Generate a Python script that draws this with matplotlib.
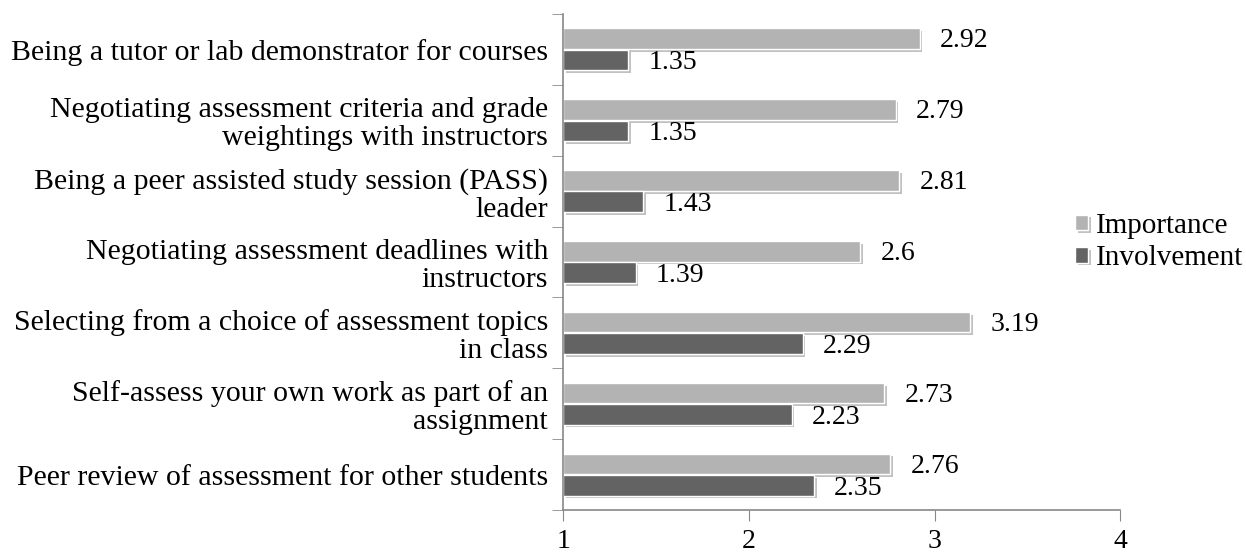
import numpy as np
import matplotlib.pyplot as plt
import matplotlib.patheffects as pe

categories = [
    "Being a tutor or lab demonstrator for courses",
    "Negotiating assessment criteria and grade\nweightings with instructors",
    "Being a peer assisted study session (PASS)\nleader",
    "Negotiating assessment deadlines with\ninstructors",
    "Selecting from a choice of assessment topics\nin class",
    "Self-assess your own work as part of an\nassignment",
    "Peer review of assessment for other students",
]
importance = [2.92, 2.79, 2.81, 2.6, 3.19, 2.73, 2.76]
involvement = [1.35, 1.35, 1.43, 1.39, 2.29, 2.23, 2.35]
x_ticks = [1, 2, 3, 4]

plt.rcParams['font.family'] = ['Liberation Serif', 'DejaVu Serif']

fig = plt.figure(figsize=(12.46, 5.55), dpi=100)
ax = fig.add_axes([0.452, 0.081, 0.447, 0.894])

n = len(categories)
pos = np.arange(n)[::-1]
h = 0.29
off = 0.15
shadow = [pe.SimplePatchShadow(offset=(2, -2), shadow_rgbFace='#999999', alpha=0.6), pe.Normal()]

b1 = ax.barh(pos + off, np.array(importance) - 1, left=1, height=h, color='#b3b3b3',
             edgecolor='white', linewidth=1, label='Importance')
b2 = ax.barh(pos - off, np.array(involvement) - 1, left=1, height=h, color='#636363',
             edgecolor='white', linewidth=1, label='Involvement')
for b in list(b1) + list(b2):
    b.set_path_effects(shadow)

for p, v in zip(pos, importance):
    ax.text(v + 0.11, p + off - 0.03, str(v), va='center', ha='left', fontsize=20)
for p, v in zip(pos, involvement):
    ax.text(v + 0.11, p - off - 0.04, str(v), va='center', ha='left', fontsize=20)

ax.set_xlim(1, 4)
ax.set_ylim(-0.5, n - 0.5)
ax.set_xticks(x_ticks)
ax.set_xticklabels([str(t) for t in x_ticks], fontsize=20)
ax.tick_params(axis='x', length=8, color='#888888', pad=6)

ax.set_yticks(pos)
ax.set_yticklabels(categories, fontsize=21.5, multialignment='right', linespacing=1.1)
ax.tick_params(axis='y', length=0, pad=11)
ax.set_yticks(np.arange(n + 1) - 0.5, minor=True)
ax.tick_params(axis='y', which='minor', length=8, color='#888888')

for s in ['top', 'right']:
    ax.spines[s].set_visible(False)
for s in ['left', 'bottom']:
    ax.spines[s].set_color('#888888')
    ax.spines[s].set_linewidth(1.2)

ax.legend(loc='center left', bbox_to_anchor=(0.8628, 0.564), bbox_transform=fig.transFigure,
          frameon=False, fontsize=21, borderpad=0, borderaxespad=0,
          handlelength=0.45, handleheight=0.45, handletextpad=0.25, labelspacing=0.22)

fig.savefig('out.png', dpi=100)
